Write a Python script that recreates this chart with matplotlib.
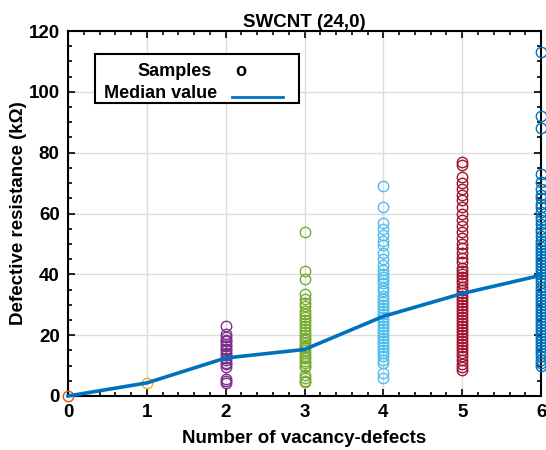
import matplotlib.pyplot as plt
from matplotlib.lines import Line2D
from matplotlib.patches import Rectangle
from matplotlib.ticker import MultipleLocator

plt.rcParams['font.family'] = ['Liberation Sans', 'DejaVu Sans']
plt.rcParams['font.weight'] = 'bold'

# defect counts and sampled resistances (kOhm)
defects = [0, 1, 2, 3, 4, 5, 6]
samples0 = [0.0]
samples1 = [4.3]
samples2 = [23, 20.5, 19.5, 18.5, 18, 17, 16.5, 15.5, 15, 14, 13.5, 12.5, 12,
            11, 10.5, 9.5, 5.5, 4.8, 4.3]
samples3 = [54, 41, 38.5, 33.5, 32, 30.5, 29.5, 28, 27, 26, 25, 24, 23, 22, 21,
            20, 19, 18.5, 17.5, 16.5, 16, 15, 14, 13, 12.5, 11.5, 11, 10, 9.5,
            7, 6, 5, 4.5]
samples4 = [69, 62, 57, 55, 53, 51, 49.5, 47, 45, 43, 41.5, 40, 39, 38, 37,
            35.5, 34.5, 33, 32, 31, 30, 29, 28, 27, 26, 25, 24, 23, 22, 21, 20,
            19, 18, 17, 16, 15, 14, 13, 12, 11, 7.5, 6]
samples5 = [77, 76, 72, 70, 68, 66, 64.5, 62, 60, 58, 56, 54, 52, 50, 48.5, 47,
            45.5, 44, 42, 41, 40, 39, 38, 37, 36, 35, 34, 33, 32, 31, 30, 29,
            28, 27, 26, 25, 24, 23, 22, 21, 20, 19, 18, 17, 16, 15, 14, 13, 12,
            10.5, 9.5, 8.5]
samples6 = [113, 92, 88, 73, 70.5, 68, 66, 65, 63, 62, 60.5, 59, 58, 56.5, 55,
            54, 52.5, 51, 50, 49, 48, 47, 46, 45, 44, 43, 42, 41, 40, 39, 38,
            37, 36, 35, 34, 33, 32, 31, 30, 29, 28, 27, 26, 25, 24, 23, 22, 21,
            20, 19, 18, 17, 16, 15, 14, 13, 12, 11, 10]
medians = [0, 4.3, 12.5, 15.3, 26.2, 33.7, 39.7]

colors = ['#D95319', '#EDB120', '#7E2F8E', '#77AC30', '#4DBEEE', '#A2142F', '#0072BD']
groups = [samples0, samples1, samples2, samples3, samples4, samples5, samples6]

fig = plt.figure(figsize=(5.46, 4.5), dpi=100)
ax = fig.add_axes([0.1245, 0.12, 0.8665, 0.811])

for d, vals, c in zip(defects, groups, colors):
    ax.plot([d] * len(vals), vals, 'o', mfc='none', mec=c, ms=7.5, mew=1.0,
            clip_on=False, zorder=3)

ax.plot(defects, medians, color='#0072BD', lw=2.6, zorder=4, clip_on=False)

ax.set_xlim(0, 6)
ax.set_ylim(0, 120)
ax.xaxis.set_major_locator(MultipleLocator(1))
ax.xaxis.set_minor_locator(MultipleLocator(0.2))
ax.yaxis.set_major_locator(MultipleLocator(20))
ax.yaxis.set_minor_locator(MultipleLocator(5))
ax.tick_params(which='both', direction='in', top=True, right=True, width=1.2)
ax.tick_params(which='major', length=5, labelsize=13.5, pad=6)
ax.tick_params(which='minor', length=3)
ax.grid(True, which='major', color='#dcdcdc', lw=1)
ax.set_axisbelow(True)
for s in ax.spines.values():
    s.set_linewidth(1.5)

ax.set_title('SWCNT (24,0)', fontsize=13.5, fontweight='bold', pad=3)
ax.set_xlabel('Number of vacancy-defects', fontsize=13.5, fontweight='bold', labelpad=6)
ax.set_ylabel('Defective resistance (k\u03a9)', fontsize=13.5, fontweight='bold', labelpad=1)

# legend box drawn by hand to mimic the original layout
ax.add_patch(Rectangle((0.058, 0.804), 0.43, 0.132, transform=ax.transAxes,
                       fill=True, fc='white', ec='black', lw=1.5, zorder=5))
ax.text(0.304, 0.89, 'Samples', transform=ax.transAxes, ha='right', va='center',
        fontsize=13, fontweight='bold', zorder=6)
ax.text(0.365, 0.89, 'o', transform=ax.transAxes, ha='center', va='center',
        fontsize=13, fontweight='bold', zorder=6)
ax.text(0.315, 0.83, 'Median value', transform=ax.transAxes, ha='right', va='center',
        fontsize=13, fontweight='bold', zorder=6)
ax.add_line(Line2D([0.347, 0.455], [0.82, 0.82], transform=ax.transAxes,
                   color='#0072BD', lw=2, zorder=6))

fig.savefig('out.png', dpi=100)
